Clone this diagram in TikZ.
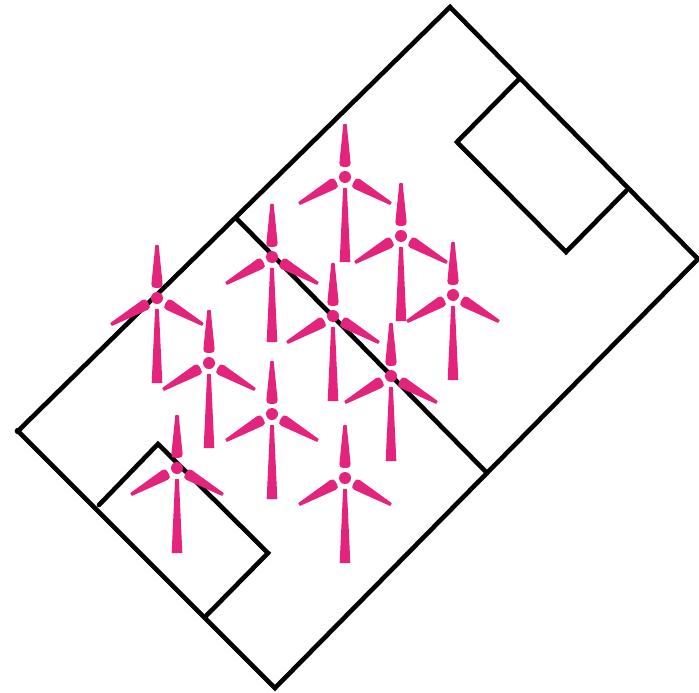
\documentclass[tikz,border=0pt]{standalone}
\definecolor{turbinepink}{HTML}{E4247C}
\tikzset{
  x=1pt,y=-1pt,
  wall/.style={draw=black,line width=4.6pt,line cap=round,line join=miter},
  bladeshape/.style={fill=turbinepink,draw=turbinepink,line width=1.4pt,line join=round},
  rotor/.pic={
    \path[bladeshape] (-1,-52.5) -- (1,-52.5) -- (4.9,-14) .. controls (5.1,-11.5) and (3.5,-10.8) .. (1.5,-10.8) -- (-1.5,-10.8) .. controls (-3.5,-10.8) and (-5.1,-11.5) .. (-4.9,-14) -- cycle;
  },
  turbine/.pic={
    \fill[turbinepink] (0,0) circle (6);
    \pic {rotor};
    \pic[rotate=120] {rotor};
    \pic[rotate=-120] {rotor};
    \path[bladeshape] (-1.2,11.5) -- (1.2,11.5) -- (4.6,84.5) -- (-4.6,84.5) -- cycle;
  }
}
\begin{document}
\begin{tikzpicture}
\useasboundingbox (0,0) rectangle (699,693);
\coordinate (n) at (450,7);
\coordinate (e) at (698,259);
\coordinate (s) at (275,688);
\coordinate (w) at (18,431);
\draw[wall] (n) -- (e) -- (s) -- (w) -- cycle;
\fill[black] (w) circle (3.3);
\draw[wall] (237,219) -- (487,473);
\draw[wall] (519,79) -- (457,142) -- (566,252) -- (626,191);
\draw[wall] (99,505) -- (158,444) -- (268,553) -- (206,616);
\foreach \cx/\cy in {345/177,401/236,453/295,272/257,333/316,391/376,157/298,209/363,272/414,345/478,177/468}
  \pic at (\cx,\cy) {turbine};
\end{tikzpicture}
\end{document}
